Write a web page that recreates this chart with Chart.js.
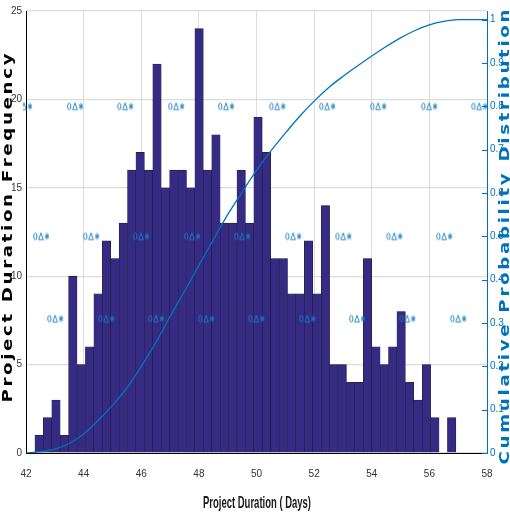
<!DOCTYPE html>
<html>
<head>
<meta charset="utf-8">
<script src="https://cdn.jsdelivr.net/npm/chart.js@4.4.1/dist/chart.umd.min.js"></script>
<style>
  html, body { margin: 0; padding: 0; background: #fff; }
  #wrap { width: 510px; height: 516px; }
</style>
</head>
<body>
<div id="wrap"><canvas id="durationChart" width="510" height="516"></canvas></div>
<script>
// ---------- histogram: 50 bins of project duration ----------
const binStart = 42.31;
const binWidth = 0.2922;
const frequency = [1, 2, 3, 1, 10, 5, 6, 9, 12, 11,
                   13, 16, 17, 16, 22, 15, 16, 16, 15, 24,
                   16, 18, 13, 13, 16, 13, 19, 17, 11, 11,
                   9, 9, 12, 9, 14, 5, 5, 4, 4, 11,
                   6, 5, 6, 8, 4, 3, 5, 2, 0, 2];

// ---------- cumulative probability curve ----------
const cdfDays = [42, 42.5, 43, 43.5, 44, 44.5, 45, 45.5, 46, 46.5, 47, 47.5, 48, 48.5, 49, 49.5,
                 50, 50.5, 51, 51.5, 52, 52.5, 53, 53.5, 54, 54.5, 55, 55.5, 56, 56.5, 57, 57.5, 58];
const cdfProb = [0, 0.003, 0.009, 0.022, 0.044, 0.075, 0.11, 0.15, 0.2, 0.254, 0.315, 0.373, 0.433, 0.492, 0.55, 0.602,
                 0.652, 0.697, 0.738, 0.777, 0.812, 0.843, 0.869, 0.893, 0.916, 0.938, 0.958, 0.975, 0.988, 0.996, 1, 1, 1];

// ---------- marker groups (o, triangle, asterisk) ----------
const markerRowTop = [41.93, 43.70, 45.44, 47.21, 48.94, 50.72, 52.45, 54.22, 55.99, 57.73];
const markerRowMid = [42.52, 44.26, 45.99, 47.76, 49.50, 51.27, 53.01, 54.78, 56.51];
const markerRowLow = [43.01, 44.78, 46.51, 48.25, 49.99, 51.76, 53.49, 55.23, 57.00];
const markerLevels = [0.8, 0.5, 0.31];

// ---------- axes ----------
const xTicks = [42, 44, 46, 48, 50, 52, 54, 56, 58];
const freqTicks = [0, 5, 10, 15, 20, 25];
const probTicks = [0, 0.1, 0.2, 0.3, 0.4, 0.5, 0.6, 0.7, 0.8, 0.9, 1];
const probMax = 1.02;

const BLUE = '#0072BD';
const tickFont = { family: "'Liberation Sans Narrow', 'Liberation Sans', Arial, sans-serif", size: 10 };

// bars built from bin edges
const histData = frequency.map((f, i) => ({ x: binStart + binWidth * (i + 0.5), y: f }));
const cdfData = cdfDays.map((d, i) => ({ x: d, y: cdfProb[i] }));
const markerData = [];
[markerRowTop, markerRowMid, markerRowLow].forEach((row, r) => {
    row.forEach(x => markerData.push({ x: x, y: markerLevels[r] }));
});

// small picture with the three marker shapes side by side
function makeMarkerGroup() {
    const c = document.createElement('canvas');
    c.width = 22; c.height = 10;
    const g = c.getContext('2d');
    g.strokeStyle = '#1a7ec4';
    g.lineWidth = 0.9;
    g.beginPath(); g.ellipse(5.3, 5, 1.6, 3.3, 0, 0, Math.PI * 2); g.stroke();
    g.beginPath(); g.moveTo(11, 1.6); g.lineTo(13.3, 8.3); g.lineTo(8.7, 8.3); g.closePath(); g.stroke();
    g.beginPath();
    g.moveTo(17, 1.6); g.lineTo(17, 8.4);
    g.moveTo(15.1, 2.9); g.lineTo(18.9, 7.1);
    g.moveTo(15.1, 7.1); g.lineTo(18.9, 2.9);
    g.moveTo(14.9, 5); g.lineTo(19.1, 5);
    g.stroke();
    return c;
}

// axis titles + inward ticks on the right axis
const decorPlugin = {
    id: 'decor',
    afterDraw(chart) {
        const ctx = chart.ctx;
        const y2 = chart.scales.y2;

        ctx.save();
        ctx.strokeStyle = BLUE;
        ctx.lineWidth = 1;
        y2.ticks.forEach(t => {
            const py = Math.round(y2.getPixelForValue(t.value)) + 0.5;
            ctx.beginPath();
            ctx.moveTo(y2.left - 5, py);
            ctx.lineTo(y2.left, py);
            ctx.stroke();
        });
        ctx.restore();

        drawSpaced(ctx, 'Project Duration Frequency', 8, 228, 349, '#000');
        drawSpaced(ctx, 'Cumulative Probability Distribution', 505, 237, 455, BLUE);

        // x title, condensed
        ctx.save();
        ctx.font = "bold 17px 'Liberation Sans Narrow', 'Liberation Sans', Arial, sans-serif";
        ctx.fillStyle = '#1a1a1a';
        ctx.textAlign = 'center';
        ctx.textBaseline = 'middle';
        const txt = 'Project Duration ( Days)';
        const w = ctx.measureText(txt).width;
        ctx.translate(257, 503);
        ctx.scale(108 / w, 1);
        ctx.fillText(txt, 0, 0);
        ctx.restore();
    }
};

// rotated, widened and letter-spaced title
function drawSpaced(ctx, text, cx, cy, target, color) {
    const stretch = 1.3;
    ctx.save();
    ctx.font = "bold 14px 'DejaVu Sans', Verdana, sans-serif";
    ctx.fillStyle = color;
    ctx.textBaseline = 'middle';
    ctx.textAlign = 'left';
    ctx.translate(cx, cy);
    ctx.rotate(-Math.PI / 2);
    ctx.scale(stretch, 1);
    let w0 = 0;
    for (const ch of text) w0 += ctx.measureText(ch).width;
    const ls = (target / stretch - w0) / (text.length - 1);
    let x = -target / stretch / 2;
    for (const ch of text) {
        ctx.fillText(ch, x, 0);
        x += ctx.measureText(ch).width + ls;
    }
    ctx.restore();
}

new Chart(document.getElementById('durationChart'), {
    type: 'bar',
    data: {
        datasets: [
            {
                type: 'scatter',
                data: markerData,
                yAxisID: 'y2',
                pointStyle: makeMarkerGroup(),
                pointRadius: 10,
                clip: { left: 3, right: 5, top: 5, bottom: 5 },
                order: 0
            },
            {
                type: 'line',
                data: cdfData,
                yAxisID: 'y2',
                borderColor: BLUE,
                borderWidth: 1.3,
                pointRadius: 0,
                cubicInterpolationMode: 'monotone',
                fill: false,
                order: 1
            },
            {
                type: 'bar',
                data: histData,
                yAxisID: 'y',
                backgroundColor: '#352a84',
                borderColor: '#1f1f2a',
                borderWidth: 0.6,
                barPercentage: 1,
                categoryPercentage: 1,
                order: 2
            }
        ]
    },
    options: {
        responsive: false,
        animation: false,
        events: [],
        layout: { padding: { top: 10, left: 0, right: 0, bottom: 0 } },
        plugins: { legend: { display: false }, tooltip: { enabled: false } },
        scales: {
            x: {
                type: 'linear',
                min: 42, max: 58,
                offset: false,
                afterBuildTicks: s => { s.ticks = xTicks.map(v => ({ value: v })); },
                afterFit: s => { s.height = 63; },
                grid: { color: '#dcdcdc', drawTicks: false, offset: false },
                border: { color: '#000', width: 1 },
                ticks: { font: tickFont, color: '#333', padding: 15, maxRotation: 0, autoSkip: false }
            },
            y: {
                position: 'left',
                min: 0, max: 25,
                afterBuildTicks: s => { s.ticks = freqTicks.map(v => ({ value: v })); },
                afterFit: s => { s.width = 26; },
                grid: { color: '#dcdcdc', lineWidth: 1.3, drawTicks: false },
                border: { color: '#000', width: 1 },
                ticks: { font: tickFont, color: '#333', padding: 4 }
            },
            y2: {
                position: 'right',
                min: 0, max: probMax,
                afterBuildTicks: s => { s.ticks = probTicks.map(v => ({ value: v })); },
                afterFit: s => { s.width = 23; },
                grid: { drawOnChartArea: false, drawTicks: false },
                border: { color: BLUE, width: 1 },
                ticks: { font: tickFont, color: BLUE, padding: 3, callback: v => String(v) }
            }
        }
    },
    plugins: [decorPlugin]
});
</script>
</body>
</html>
